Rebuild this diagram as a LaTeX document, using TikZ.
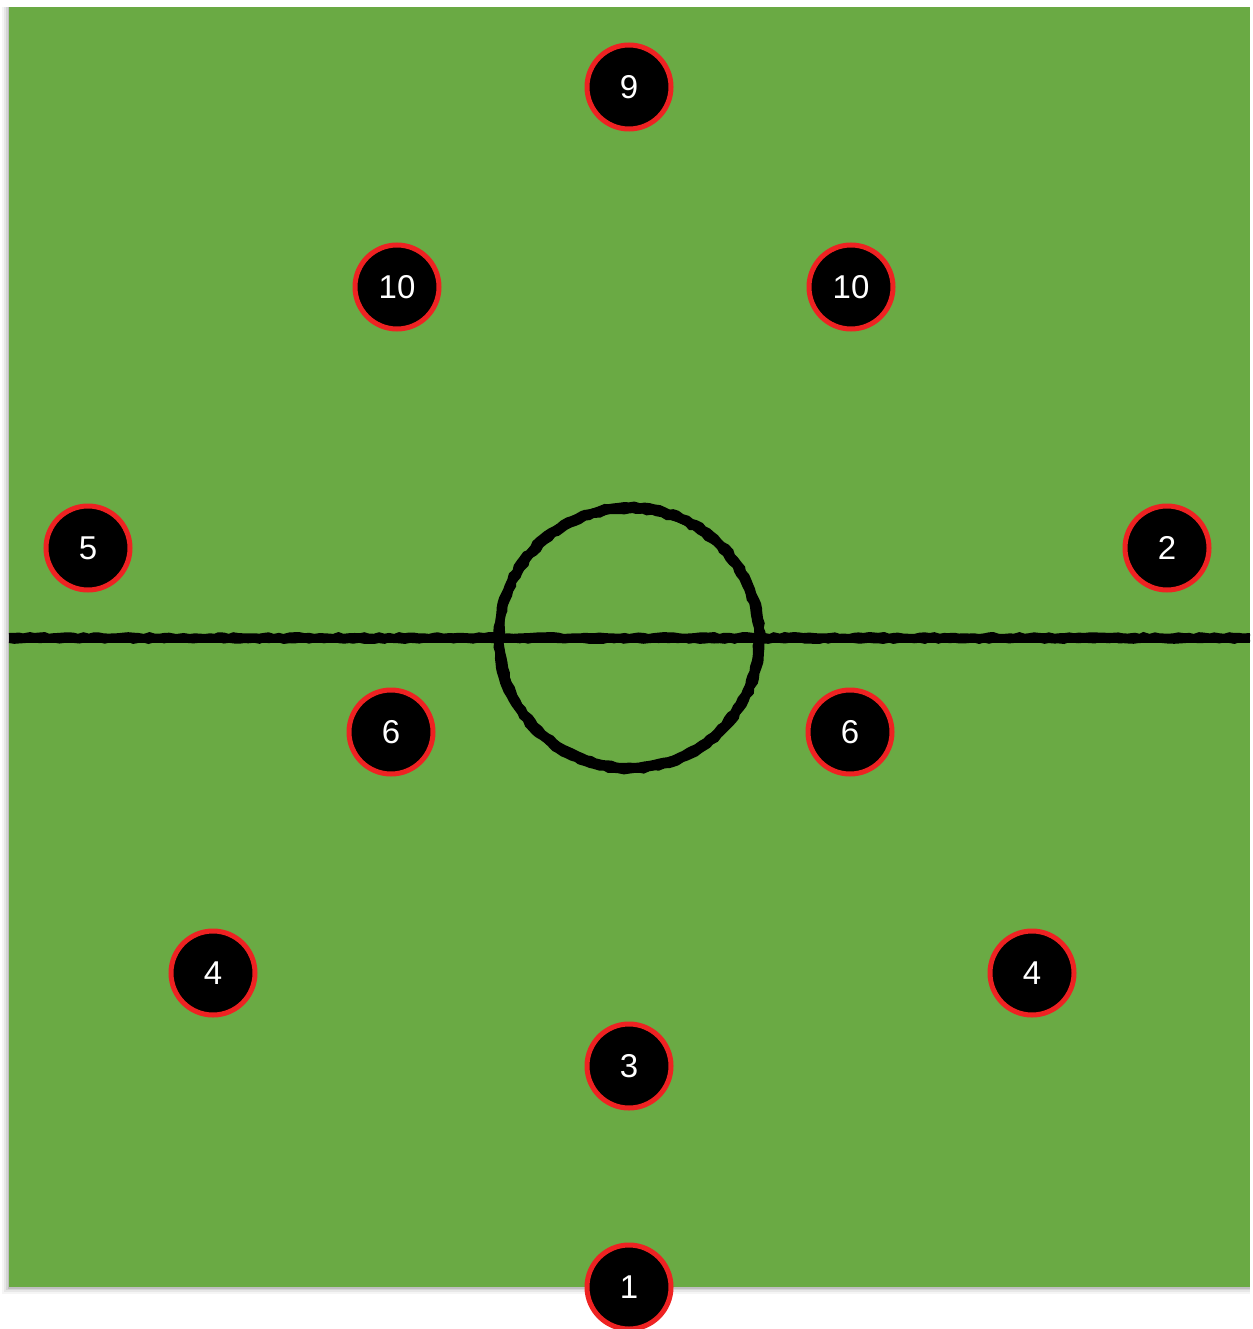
\documentclass[tikz,border=0pt]{standalone}
\usepackage{fontspec}
\setmainfont{Liberation Sans}
\usetikzlibrary{decorations.pathmorphing}
\definecolor{grass}{RGB}{106,170,68}
\definecolor{ringred}{RGB}{238,34,34}
\begin{document}
\begin{tikzpicture}[x=1pt,y=-1pt,
  player/.style={circle,fill=black,draw=ringred,line width=5pt,minimum size=84pt,inner sep=0pt,text=white,font=\fontsize{33}{35}\selectfont},
  chalk/.style={black,decorate,decoration={random steps,segment length=5pt,amplitude=1pt}}]
\useasboundingbox (0,0) rectangle (1252,1329);
% shadow
\foreach \o/\op in {7/0.04,5/0.06,3/0.08,1.5/0.1}{
  \fill[black,opacity=\op] (9-\o,7) rectangle (1250,1287+\o);
}
% field
\fill[grass] (9,7) rectangle (1250,1287);
% halfway line and centre circle
\coordinate (c) at (629,638);
\coordinate (hl) at (9,638);
\coordinate (hr) at (1250,638);
\draw[line width=9pt,black] (hl) -- (hr);
\draw[chalk,line width=3pt] ([yshift=-3.5pt]hl) -- ([yshift=-3.5pt]hr);
\draw[chalk,line width=3pt] ([yshift=3.5pt]hl) -- ([yshift=3.5pt]hr);
\draw[line width=9pt,black] (c) circle[radius=130pt];
\draw[chalk,line width=3pt] (c) circle[radius=134pt];
\draw[chalk,line width=3pt] (c) circle[radius=126pt];
% players
\node[player] (p9) at (629,87) {9};
\node[player] (p10l) at (397,287) {10};
\node[player] (p10r) at (851,287) {10};
\node[player] (p5) at (88,548) {5};
\node[player] (p2) at (1167,548) {2};
\node[player] (p6l) at (391,732) {6};
\node[player] (p6r) at (850,732) {6};
\node[player] (p4l) at (213,973) {4};
\node[player] (p4r) at (1032,973) {4};
\node[player] (p3) at (629,1066) {3};
\node[player] (p1) at (629,1287) {1};
\end{tikzpicture}
\end{document}
